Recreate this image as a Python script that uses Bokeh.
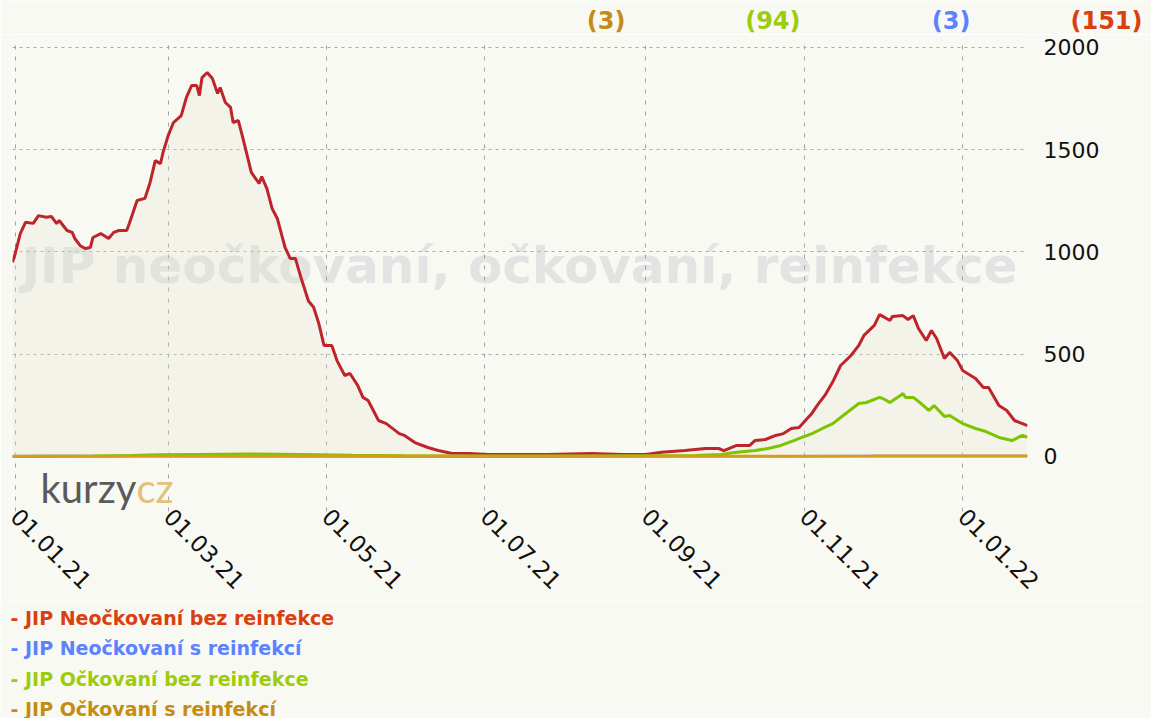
import math
import pandas as pd
from bokeh.plotting import figure
from bokeh.layouts import column
from bokeh.models import Range1d, FixedTicker, DatetimeTickFormatter, Label
from bokeh.core.properties import value
from bokeh.embed import file_html
from bokeh.resources import INLINE

# ---------------- data ----------------
START = "2021-01-01"

red_days = [-1, 0, 2, 4, 7, 9, 12, 14, 16, 17,
            20, 22, 23, 25, 27, 29, 30, 33, 36, 38,
            40, 43, 44, 47, 50, 52, 54, 56, 57, 59,
            61, 64, 66, 68, 70, 71, 72, 74, 76, 78,
            79, 81, 83, 84, 86, 88, 91, 94, 95, 97,
            99, 101, 104, 106, 108, 110, 113, 115, 117, 119,
            122, 124, 127, 129, 132, 134, 136, 140, 143, 148,
            150, 154, 159, 163, 168, 175, 182, 192, 205, 222,
            234, 243, 249, 258, 266, 271, 273, 278, 283, 285,
            289, 293, 296, 299, 302, 304, 307, 309, 312, 315,
            318, 322, 325, 327, 331, 333, 335, 337, 338, 342,
            344, 346, 348, 351, 353, 355, 358, 360, 363, 365,
            370, 373, 375, 379, 382, 385, 390]
red_vals = [950, 990, 1090, 1145, 1140, 1178, 1170, 1174, 1139, 1154,
            1105, 1096, 1066, 1032, 1017, 1022, 1071, 1090, 1066, 1096,
            1105, 1105, 1139, 1252, 1262, 1340, 1447, 1432, 1487, 1570,
            1633, 1667, 1756, 1814, 1814, 1765, 1853, 1878, 1848, 1775,
            1804, 1731, 1707, 1633, 1643, 1545, 1389, 1335, 1369, 1310,
            1213, 1164, 1022, 968, 968, 880, 760, 730, 650, 543,
            543, 469, 396, 406, 347, 289, 274, 176, 161, 112,
            103, 68, 44, 29, 16, 15, 10, 10, 10, 15,
            10, 10, 21, 29, 39, 39, 29, 54, 54, 78,
            83, 103, 112, 137, 142, 170, 212, 250, 300, 365,
            445, 494, 543, 592, 641, 694, 680, 665, 685, 689,
            670, 689, 626, 567, 616, 577, 479, 509, 469, 421,
            381, 337, 337, 249, 225, 176, 151]

green_days = [-1, 30, 45, 55, 70, 90, 110, 130, 150, 180,
              220, 262, 272, 277, 285, 290, 295, 300, 303, 307,
              311, 315, 320, 325, 328, 333, 335, 337, 341, 342,
              343, 346, 349, 352, 354, 358, 360, 365, 370, 374,
              379, 384, 388, 390]
green_vals = [0, 2, 5, 8, 10, 12, 10, 6, 4, 3,
              3, 5, 10, 20, 29, 39, 54, 78, 93, 112,
              137, 161, 210, 259, 264, 289, 279, 264, 298, 308,
              289, 289, 259, 225, 249, 196, 200, 161, 137, 122,
              93, 78, 103, 94]

blue_days = [-1, 10, 25, 35, 45, 55, 65, 100, 150, 200, 250, 300, 330, 360, 390]
blue_vals = [1, 3, 3, 1, 4, 4, 2, 1, 0, 0, 1, 1, 3, 3, 3]

gold_days = [-1, 60, 120, 200, 280, 330, 360, 390]
gold_vals = [1, 1, 2, 1, 1, 2, 3, 3]

tick_dates = ["2021-01-01", "2021-03-01", "2021-05-01", "2021-07-01",
              "2021-09-01", "2021-11-01", "2022-01-01"]
y_ticks = [0, 500, 1000, 1500, 2000]

series_names = ["JIP Neočkovaní bez reinfekce", "JIP Neočkovaní s reinfekcí",
                "JIP Očkovaní bez reinfekce", "JIP Očkovaní s reinfekcí"]
watermark_text = "JIP neočkovaní, očkovaní, reinfekce"

# ---------------- styling ----------------
BG = "#f9f9f4"
W = 1151
C_RED_LINE, C_BLUE_LINE, C_GREEN_LINE, C_GOLD_LINE = "#be252b", "#6d8cff", "#7dc400", "#d69c1c"
C_RED_TXT, C_BLUE_TXT, C_GREEN_TXT, C_GOLD_TXT = "#d9400f", "#5b82ff", "#9ccc0a", "#c48c12"


def to_dates(days):
    return pd.to_datetime(START) + pd.to_timedelta(days, unit="D")


def blank_fig(h):
    f = figure(width=W, height=h, x_range=Range1d(0, W), y_range=Range1d(0, h),
               output_backend="svg", toolbar_location=None, min_border=0,
               x_axis_location=None, y_axis_location=None, frame_align=False,
               background_fill_color=BG, border_fill_color=BG, outline_line_color=None)
    f.grid.visible = False
    return f


red_x = to_dates(red_days)
green_x = to_dates(green_days)
blue_x = to_dates(blue_days)
gold_x = to_dates(gold_days)

# ---------------- top row: last values ----------------
TOP_H = 34
top = blank_fig(TOP_H)
top_vals = [gold_vals[-1], green_vals[-1], blue_vals[-1], red_vals[-1]]
top.text(x=[625, 800, 970, 1142], y=[TOP_H - 20] * 4, text=[f"({v})" for v in top_vals],
         text_color=[C_GOLD_TXT, C_GREEN_TXT, C_BLUE_TXT, C_RED_TXT],
         text_align="right", text_baseline="middle", text_font=value("DejaVu Sans"),
         text_font_style="bold", text_font_size="24px")

# ---------------- main chart ----------------
p = figure(width=W, height=600 - TOP_H, x_axis_type="datetime", y_axis_location="right",
           x_range=Range1d(red_x[0], red_x[-1]), y_range=Range1d(-269, 2044),
           output_backend="svg", toolbar_location=None, frame_align=False,
           min_border_left=12, min_border_right=124, min_border_top=38 - TOP_H,
           min_border_bottom=89,
           background_fill_color=BG, border_fill_color=BG, outline_line_color=None)

tick_ms = [pd.Timestamp(d).value // 10**6 for d in tick_dates]
p.xaxis.ticker = FixedTicker(ticks=tick_ms)
fmt = "%d.%m.%y"
p.xaxis.formatter = DatetimeTickFormatter(milliseconds=fmt, seconds=fmt, minsec=fmt, minutes=fmt,
                                          hourmin=fmt, hours=fmt, days=fmt, months=fmt, years=fmt)
p.xaxis.major_label_orientation = -math.pi / 4
p.xaxis.major_label_standoff = 1
p.yaxis.ticker = FixedTicker(ticks=y_ticks)
p.yaxis.major_label_standoff = 16
for ax in (p.xaxis, p.yaxis):
    ax.axis_line_color = None
    ax.major_tick_line_color = None
    ax.minor_tick_line_color = None
    ax.major_tick_out = 0
    ax.major_tick_in = 0
    ax.major_label_text_font = "DejaVu Sans"
    ax.major_label_text_color = "#111111"
p.xaxis.major_label_text_font_size = "23px"
p.yaxis.major_label_text_font_size = "22px"

p.xgrid.grid_line_color = "#a0a0a0"
p.xgrid.grid_line_dash = "4 7"
p.ygrid.grid_line_color = "#a8a8a8"
p.ygrid.grid_line_dash = "3 4"

p.add_layout(Label(x=507, y=246, x_units="screen", y_units="screen", text=watermark_text,
                   text_align="center", text_baseline="middle",
                   text_font="DejaVu Sans", text_font_style="bold", text_font_size="50px",
                   text_color="#e3e3e3", level="image"))

p.varea(x=red_x, y1=0, y2=red_vals, fill_color="#e3e6cf", fill_alpha=0.3)
p.line(red_x, red_vals, line_color=C_RED_LINE, line_width=3)
p.line(blue_x, blue_vals, line_color=C_BLUE_LINE, line_width=2.5)
p.line(green_x, green_vals, line_color=C_GREEN_LINE, line_width=3)
p.line(gold_x, gold_vals, line_color=C_GOLD_LINE, line_width=3)

# logo
p.add_layout(Label(x=28, y=0, x_units="screen", y_units="screen", text="kurzy",
                   text_font="Lato", text_font_size="40px", text_color="#5a5a5a",
                   text_baseline="bottom"))
p.add_layout(Label(x=124, y=0, x_units="screen", y_units="screen", text="cz",
                   text_font="Lato", text_font_size="40px", text_color="#e2c27a",
                   text_baseline="bottom"))

# ---------------- legend ----------------
leg = blank_fig(118)
leg.text(x=[10] * 4, y=[101, 71, 40, 10], text=["- " + n for n in series_names],
         text_color=[C_RED_TXT, C_BLUE_TXT, C_GREEN_TXT, C_GOLD_TXT],
         text_align="left", text_baseline="middle", text_font=value("DejaVu Sans"),
         text_font_style="bold", text_font_size="19px")

layout = column(top, p, leg, spacing=0)
open("out.html", "w").write(file_html(layout, INLINE))
